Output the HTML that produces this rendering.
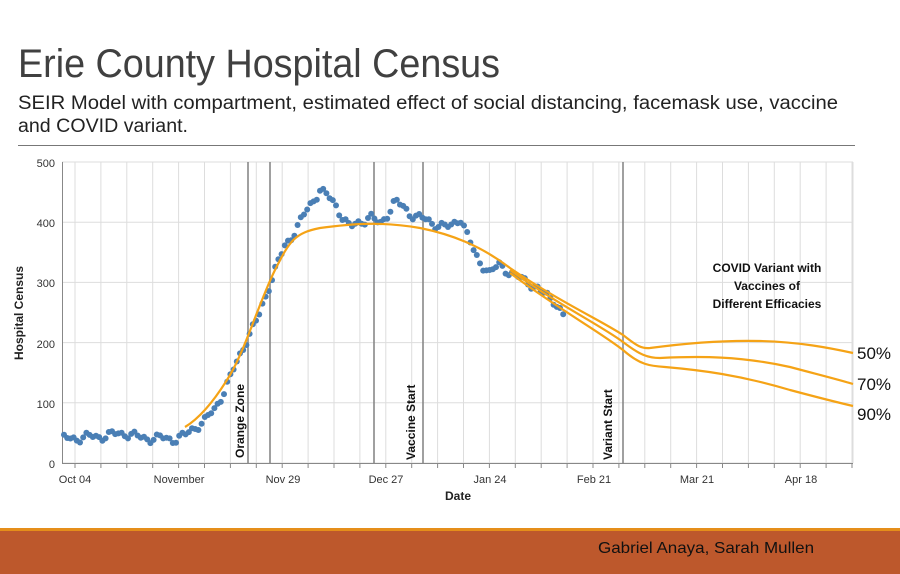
<!DOCTYPE html>
<html><head><meta charset="utf-8"><style>html,body{margin:0;padding:0;background:#fff}svg{display:block}</style></head>
<body>
<svg id="s" width="900" height="574" viewBox="0 0 900 574" xmlns="http://www.w3.org/2000/svg" font-family="Liberation Sans, sans-serif">
<rect width="900" height="574" fill="#fff"/>
<text x="18" y="77" font-size="40" fill="#404040" textLength="482" lengthAdjust="spacingAndGlyphs">Erie County Hospital Census</text>
<text x="18" y="109" font-size="19" fill="#222" textLength="820" lengthAdjust="spacingAndGlyphs">SEIR Model with compartment, estimated effect of social distancing, facemask use, vaccine</text>
<text x="18" y="132" font-size="19" fill="#222" textLength="170" lengthAdjust="spacingAndGlyphs">and COVID variant.</text>
<line x1="18" y1="145.5" x2="855" y2="145.5" stroke="#777" stroke-width="1"/>
<g id="grid" stroke="#ddd" stroke-width="1"></g>
<g id="ev" stroke="#888" stroke-width="1.6"></g>
<line x1="62.5" y1="162" x2="62.5" y2="463" stroke="#888"/>
<line x1="62" y1="463.5" x2="853" y2="463.5" stroke="#888"/>
<g font-size="11" fill="#333" text-anchor="end">
<text x="55" y="167">500</text><text x="55" y="227">400</text><text x="55" y="287">300</text><text x="55" y="348">200</text><text x="55" y="408">100</text><text x="55" y="468">0</text>
</g>
<g font-size="11" fill="#333" text-anchor="middle" id="xl">
<text x="75" y="483">Oct 04</text><text x="179" y="483">November</text><text x="283" y="483">Nov 29</text><text x="386" y="483">Dec 27</text><text x="490" y="483">Jan 24</text><text x="594" y="483">Feb 21</text><text x="697" y="483">Mar 21</text><text x="801" y="483">Apr 18</text>
</g>
<text x="458" y="500" font-size="12" font-weight="bold" fill="#222" text-anchor="middle">Date</text>
<text transform="translate(23,313) rotate(-90)" font-size="12" font-weight="bold" fill="#222" text-anchor="middle">Hospital Census</text>
<g font-size="12" font-weight="bold" fill="#111">
<text transform="translate(244,458) rotate(-90)">Orange Zone</text>
<text transform="translate(415,460) rotate(-90)">Vaccine Start</text>
<text transform="translate(612,460) rotate(-90)">Variant Start</text>
</g>
<g font-size="12" font-weight="bold" fill="#111" text-anchor="middle">
<text x="767" y="272">COVID Variant with</text>
<text x="767" y="290">Vaccines of</text>
<text x="767" y="308">Different Efficacies</text>
</g>
<g id="dots" fill="#4a7fb5"></g>
<g fill="none" stroke="#f5a316" stroke-width="2.2">
<path d="M185,427 C200,418 215,400 230,375 S260,300 275,270 S295,233 320,228 C350,224 380,221 420,228 C450,234 480,245 510,268 C560,302 600,320 623,335 C635,344 640,349 650,348 C680,344 720,340 760,341 C800,342 830,348 853,353"/>
<path d="M510,270 C560,306 600,325 623,342 C640,355 648,358 660,358 C700,356 740,356 790,367 C820,375 840,380 853,384"/>
<path d="M510,273 C560,310 600,332 623,350 C640,365 650,366 665,367 C700,370 740,375 790,390 C820,398 840,403 853,406"/>
</g>
<g font-size="17" fill="#111">
<text x="857" y="359">50%</text><text x="857" y="390">70%</text><text x="857" y="420">90%</text>
</g>
<rect x="0" y="528" width="900" height="3" fill="#e58e1a"/>
<rect x="0" y="531" width="900" height="43" fill="#bd582c"/>
<text x="598" y="553" font-size="16" fill="#111" textLength="216" lengthAdjust="spacingAndGlyphs">Gabriel Anaya, Sarah Mullen</text>
</svg>
<script>
var NS="http://www.w3.org/2000/svg";
function el(p,t,a){var e=document.createElementNS(NS,t);for(var k in a)e.setAttribute(k,a[k]);p.appendChild(e);return e;}
var g=document.getElementById('grid');
for(var v=0;v<=500;v+=100){var y=463-0.602*v;el(g,'line',{x1:62,x2:853,y1:y,y2:y});}
for(var k=0;k<31;k++){var x=75+25.9*k;if(x>853)break;el(g,'line',{x1:x,x2:x,y1:162,y2:463});el(g,'line',{x1:x,x2:x,y1:463,y2:468,stroke:'#888'});}
el(g,'line',{x1:853,x2:853,y1:162,y2:463});
var ev=document.getElementById('ev');
[248,270,374,423,623].forEach(function(x){el(ev,'line',{x1:x,x2:x,y1:162,y2:463});});
var kf=[[64,40],[105,45],[125,50],[140,42],[175,40],[185,45],[195,60],[205,70],[215,90],[230,140],[245,200],[258,240],[270,300],[285,360],[300,400],[320,455],[335,430],[350,390],[370,410],[380,395],[395,435],[410,415],[430,400],[450,390],[460,410],[475,345],[490,315],[500,330],[515,310],[530,300],[540,285],[555,270],[565,238]];
var d=document.getElementById('dots');
function val(x){for(var i=0;i<kf.length-1;i++){if(x>=kf[i][0]&&x<=kf[i+1][0]){var t=(x-kf[i][0])/(kf[i+1][0]-kf[i][0]);return kf[i][1]+t*(kf[i+1][1]-kf[i][1]);}}return kf[kf.length-1][1];}
for(var x=64;x<=565;x+=3.2){var v=val(x)+Math.sin(x*1.7)*5+Math.sin(x*0.53)*4;el(d,'circle',{cx:x.toFixed(1),cy:(463-0.602*v).toFixed(1),r:3});}
</script>
</body></html>
